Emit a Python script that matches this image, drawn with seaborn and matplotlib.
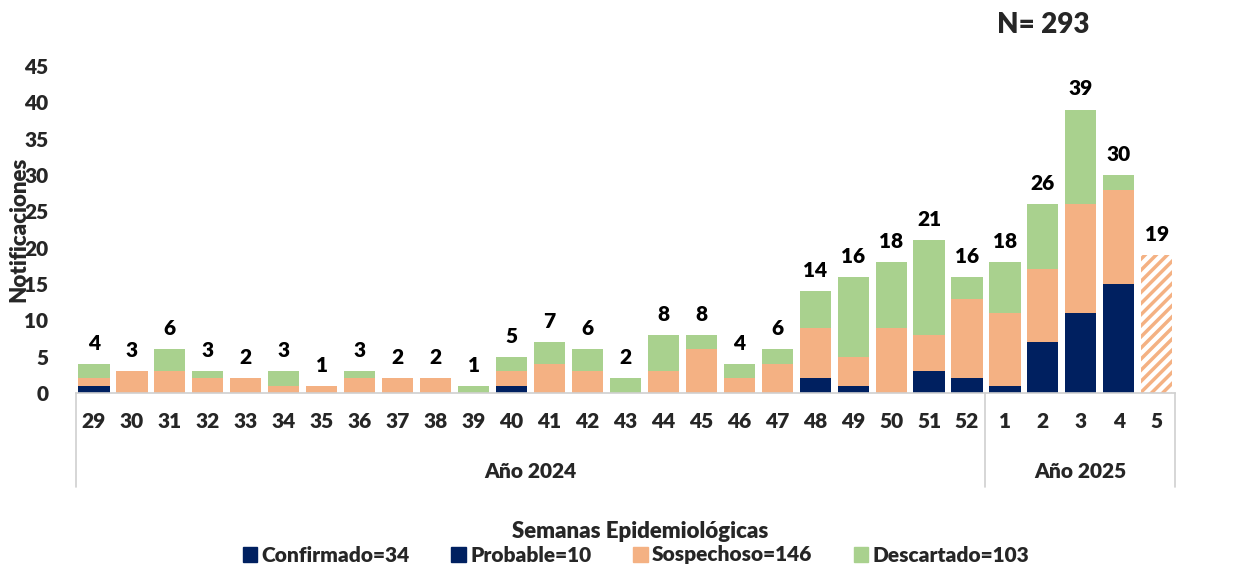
import numpy as np
import pandas as pd
import matplotlib
matplotlib.use("Agg")
import matplotlib.pyplot as plt
import matplotlib.transforms as mtransforms
from matplotlib.patches import Patch
import seaborn as sns

semanas = ["29", "30", "31", "32", "33", "34", "35", "36", "37", "38", "39", "40",
           "41", "42", "43", "44", "45", "46", "47", "48", "49", "50", "51", "52",
           "1", "2", "3", "4", "5"]
confirmado = [1, 0, 0, 0, 0, 0, 0, 0, 0, 0, 0, 1, 0, 0, 0, 0, 0, 0, 0, 2, 1, 0, 3, 2,
              1, 4, 8, 11, 0]
probable = [0, 0, 0, 0, 0, 0, 0, 0, 0, 0, 0, 0, 0, 0, 0, 0, 0, 0, 0, 0, 0, 0, 0, 0,
            0, 3, 3, 4, 0]
sospechoso = [1, 3, 3, 2, 2, 1, 1, 2, 2, 2, 0, 2, 4, 3, 0, 3, 6, 2, 4, 7, 4, 9, 5, 11,
              10, 10, 15, 13, 19]
descartado = [2, 0, 3, 1, 0, 2, 0, 1, 0, 0, 1, 2, 3, 3, 2, 5, 2, 2, 2, 5, 11, 9, 13, 3,
              7, 9, 13, 2, 0]
anios = ["Año 2024", "Año 2025"]

navy = "#002060"
orange = "#F4B183"
green = "#A9D18E"
gris = "#D0D0D0"
W = "heavy"

df = pd.DataFrame({"semana": semanas, "conf": confirmado, "prob": probable,
                   "sosp": sospechoso, "desc": descartado})
df["nivel1"] = df["conf"]
df["nivel2"] = df["conf"] + df["prob"]
df["nivel3"] = df["nivel2"] + df["sosp"]
df["total"] = df["nivel3"] + df["desc"]

sns.set_style("white")
plt.rcParams["font.family"] = ["Lato", "DejaVu Sans"]
plt.rcParams["font.weight"] = W
plt.rcParams["hatch.linewidth"] = 2.5

fig = plt.figure(figsize=(12.58, 5.65), dpi=100)
ax = fig.add_axes([76 / 1258, 1 - 393 / 565, 1099 / 1258, 327 / 565])

# stacked look: draw cumulative totals from top layer down
for col, c in [("total", green), ("nivel3", orange), ("nivel2", navy), ("nivel1", navy)]:
    sns.barplot(data=df, x="semana", y=col, order=semanas, color=c, saturation=1,
                width=0.82, linewidth=0, ax=ax)

# semana 5 (sospechosos en estudio) rayada
hbar = ax.containers[1].patches[-1]
hbar.set_facecolor("white")
hbar.set_edgecolor(orange)
hbar.set_hatch("///")
hbar.set_linewidth(0)

ax.bar_label(ax.containers[0], labels=[str(v) for v in df["total"]], padding=8,
             fontsize=15, fontweight=W, color="black")

ax.set_ylim(0, 45)
ax.set_xlim(-0.474, 28.48)
ax.set_yticks(range(0, 46, 5))
ax.tick_params(axis="y", length=0, pad=20, labelsize=15)
ax.tick_params(axis="x", length=0, pad=14, labelsize=15)
for lab in ax.get_xticklabels() + ax.get_yticklabels():
    lab.set_fontweight(W)
for s in ["top", "right", "left"]:
    ax.spines[s].set_visible(False)
ax.spines["bottom"].set_color(gris)
ax.spines["bottom"].set_linewidth(1.2)

ax.set_xlabel("")
ax.set_ylabel("Notificaciones", fontsize=16, fontweight=W)
ax.yaxis.set_label_coords(-0.042, 0.5)

# year grouping
trans = mtransforms.blended_transform_factory(ax.transData, ax.transAxes)
for xv in [-0.474, 23.47, 28.48]:
    ax.plot([xv, xv], [0, -0.287], transform=trans, color=gris, lw=1.2, clip_on=False)
ax.text(11.5, -0.24, anios[0], transform=trans, ha="center", va="center",
        fontsize=15, fontweight=W)
ax.text(26, -0.24, anios[1], transform=trans, ha="center", va="center",
        fontsize=15, fontweight=W)

fig.text(640 / 1258, 1 - 531 / 565, "Semanas Epidemiológicas", ha="center", va="center",
         fontsize=16, fontweight=W)
fig.text(1043 / 1258, 1 - 25 / 565, "N= " + str(int(df["total"].sum())), ha="center",
         va="center", fontsize=20, fontweight=W)

handles = [Patch(color=navy, label=f"Confirmado={sum(confirmado)}"),
           Patch(color=navy, label=f"Probable={sum(probable)}"),
           Patch(color=orange, label=f"Sospechoso={sum(sospechoso)}"),
           Patch(color=green, label=f"Descartado={sum(descartado)}")]
fig.legend(handles=handles, loc="center", bbox_to_anchor=(636 / 1258, 1 - 555 / 565),
           ncol=4, frameon=False, handlelength=0.7, handleheight=0.7,
           handletextpad=0.2, columnspacing=2.0, borderpad=0,
           prop={"weight": W, "size": 15})

fig.savefig("out.png", dpi=100)
